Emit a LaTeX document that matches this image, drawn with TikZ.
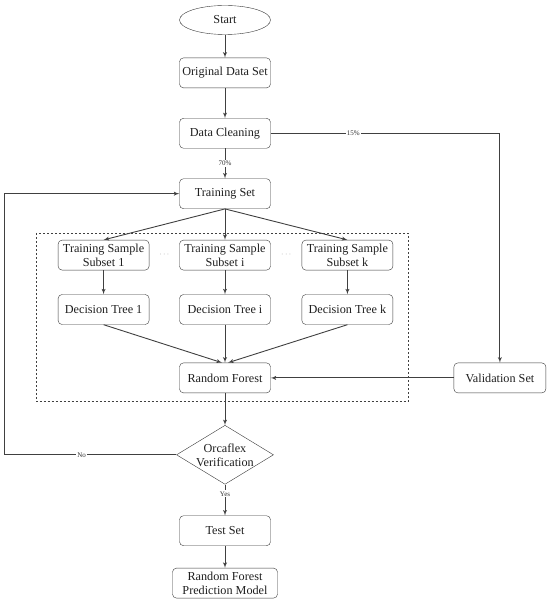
\documentclass[tikz,border=0pt]{standalone}
\usepackage{fontspec}
\setmainfont{Liberation Serif}
\usepackage{tikz}
\usetikzlibrary{positioning,shapes,arrows}

\begin{document}
\begin{tikzpicture}[
    node distance=30pt,
    box/.style={rectangle, draw=black!78, rounded corners=4pt, minimum width=91pt, minimum height=30pt, inner xsep=2pt, inner ysep=0pt, align=center, text=black!88, font=\fontsize{12.2}{14}\selectfont},
    term/.style={ellipse, draw=black!78, minimum width=91pt, minimum height=29pt, inner sep=1pt, text=black!88, font=\fontsize{12.2}{14}\selectfont},
    decide/.style={diamond, draw=black!78, aspect=1.6, minimum width=97pt, minimum height=59pt, inner sep=-4pt, align=center, text=black!88, font=\fontsize{12.2}{14}\selectfont},
    line/.style={draw=black!75, -latex', line width=0.9pt},
    tag/.style={fill=white, inner sep=1pt, text=black!80, font=\fontsize{7}{8}\selectfont},
    dots/.style={text=black!45, font=\fontsize{8}{9}\selectfont}
]
\useasboundingbox (0,0) rectangle (550pt,-604pt);

% Nodes
\node[term] (start) at (225pt,-20pt) {Start};
\node[box, below=23pt of start] (orig) {Original Data Set};
\node[box, below=30pt of orig] (clean) {Data Cleaning};
\node[box, below=30pt of clean] (train) {Training Set};
\node[box, below=31pt of train] (subi) {Training Sample\\Subset i};
\node[box, left=30pt of subi] (subone) {Training Sample\\Subset 1};
\node[box, right=31pt of subi] (subk) {Training Sample\\Subset k};
\node[box, below=24pt of subone] (treeone) {Decision Tree 1};
\node[box, below=24pt of subi] (treei) {Decision Tree i};
\node[box, below=24pt of subk] (treek) {Decision Tree k};
\node[box, below=38pt of treei] (forest) {Random Forest};
\node[box, right=183pt of forest, minimum width=92pt] (valid) {Validation Set};
\node[decide, below=32pt of forest] (verify) {Orcaflex\\Verification};
\node[box, below=31pt of verify] (test) {Test Set};
\node[box, below=22pt of test, minimum width=105pt] (model) {Random Forest\\Prediction Model};

% Dots between subsets
\path (subone) -- node[dots] (dotsa) {$\cdots$} (subi);
\path (subi) -- node[dots] (dotsb) {$\cdots$} (subk);

% Dashed frame
\coordinate (framea) at ([xshift=-22pt,yshift=7pt]subone.north west);
\coordinate (frameb) at ([xshift=15pt,yshift=-8pt]subk.east |- forest.south);
\draw[black!75, line width=0.7pt, dash pattern=on 2pt off 2pt] (framea) rectangle (frameb);

% Paths
\draw[line] (start) -- (orig);
\draw[line] (orig) -- (clean);
\draw[line] (clean) -- node[tag] {70\%} (train);
\draw[line] (clean.east) -| node[tag, pos=0.18] {15\%} (valid.north);
\draw[line] (train.south) -- (subone.north);
\draw[line] (train.south) -- (subi.north);
\draw[line] (train.south) -- (subk.north);
\draw[line] (subone) -- (treeone);
\draw[line] (subi) -- (treei);
\draw[line] (subk) -- (treek);
\draw[line] (treeone.south) -- ([xshift=-3pt]forest.north);
\draw[line] (treei.south) -- (forest.north);
\draw[line] (treek.south) -- ([xshift=3pt]forest.north);
\draw[line] (valid) -- (forest);
\draw[line] (forest) -- (verify);
\draw[line] (verify) -- node[tag, pos=0.3] {Yes} (test);
\draw[line] (test) -- (model);

% Loop back
\coordinate (back) at (verify.west -| 4pt,0);
\draw[line] (verify.west) -- node[tag, pos=0.55] {No} (back) |- (train.west);

\end{tikzpicture}
\end{document}
